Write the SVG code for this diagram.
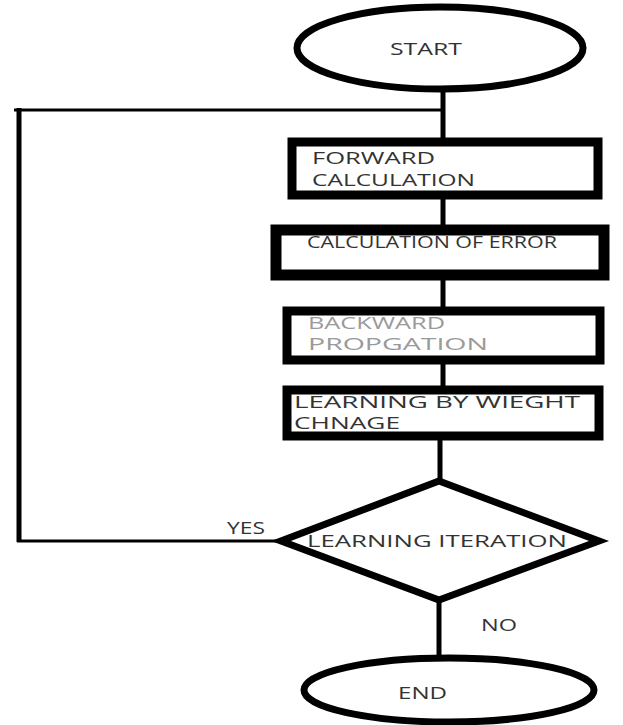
<svg xmlns="http://www.w3.org/2000/svg" width="623" height="725" viewBox="0 0 623 725">
  <style>
    .term { fill: #ffffff; stroke: #000000; stroke-width: 7; }
    .box { fill: #ffffff; stroke: #000000; stroke-width: 9; }
    .dec { fill: #ffffff; stroke: #000000; stroke-width: 7; stroke-linejoin: miter; }
    .wire { fill: none; stroke: #000000; stroke-width: 5; }
    .thin { fill: none; stroke: #000000; stroke-width: 3; }
    .lbl { font-family: "Open Sans", "Liberation Sans", sans-serif; font-size: 16.5px; fill: #333333; }
    .dim { fill: #9a9a9a; }
  </style>
  <rect width="623" height="725" fill="#ffffff"/>

  <!-- connectors -->
  <g id="connectors">
    <line class="wire" x1="443" y1="90" x2="443" y2="142"/>
    <line class="thin" x1="14" y1="110" x2="443" y2="110"/>
    <line class="wire" x1="19" y1="108" x2="19" y2="542"/>
    <line class="thin" x1="17" y1="541" x2="282" y2="541"/>
    <line class="wire" x1="443" y1="197" x2="443" y2="228"/>
    <line class="wire" x1="443" y1="276" x2="443" y2="310"/>
    <line class="wire" x1="443" y1="360" x2="443" y2="390"/>
    <line class="wire" x1="440" y1="438" x2="440" y2="482"/>
    <line class="wire" x1="439" y1="598" x2="439" y2="658"/>
  </g>

  <g id="start">
    <ellipse class="term" cx="440" cy="48" rx="143" ry="41"/>
    <text class="lbl" x="390" y="55" textLength="72" lengthAdjust="spacingAndGlyphs">START</text>
  </g>

  <g id="forward">
    <rect class="box" x="292" y="142" width="306" height="53"/>
    <text class="lbl" x="312" y="164" textLength="123" lengthAdjust="spacingAndGlyphs">FORWARD</text>
    <text class="lbl" x="312" y="186" textLength="163" lengthAdjust="spacingAndGlyphs">CALCULATION</text>
  </g>

  <g id="error">
    <rect class="box" x="276" y="230" width="328" height="45" style="stroke-width:11"/>
    <text class="lbl" x="307" y="248" textLength="250" lengthAdjust="spacingAndGlyphs">CALCULATION OF ERROR</text>
  </g>

  <g id="backward">
    <rect class="box" x="287" y="311" width="313" height="49"/>
    <text class="lbl dim" x="308" y="329" textLength="137" lengthAdjust="spacingAndGlyphs">BACKWARD</text>
    <text class="lbl dim" x="308" y="350" textLength="180" lengthAdjust="spacingAndGlyphs">PROPGATION</text>
  </g>

  <g id="learning">
    <rect class="box" x="287" y="390" width="312" height="46"/>
    <text class="lbl" x="294" y="408" textLength="286" lengthAdjust="spacingAndGlyphs">LEARNING BY WIEGHT</text>
    <text class="lbl" x="294" y="429" textLength="106" lengthAdjust="spacingAndGlyphs">CHNAGE</text>
  </g>

  <g id="iteration">
    <polygon class="dec" points="439,481 599,541 439,600 281,541"/>
    <text class="lbl" x="307" y="547" textLength="260" lengthAdjust="spacingAndGlyphs">LEARNING  ITERATION</text>
  </g>

  <g id="yes-label">
    <text class="lbl" x="227" y="534" textLength="38" lengthAdjust="spacingAndGlyphs">YES</text>
  </g>

  <g id="no-label">
    <text class="lbl" x="481" y="631" textLength="36" lengthAdjust="spacingAndGlyphs">NO</text>
  </g>

  <g id="end">
    <ellipse class="term" cx="449" cy="690" rx="145" ry="32"/>
    <text class="lbl" x="398" y="699" textLength="49" lengthAdjust="spacingAndGlyphs">END</text>
  </g>
</svg>
